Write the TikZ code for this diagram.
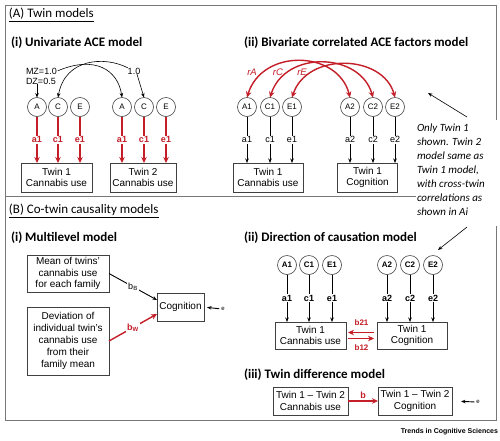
\documentclass[tikz,border=0pt]{standalone}
\usepackage{fontspec}
\setmainfont{Liberation Sans}
\newfontfamily\calib{Carlito}
\usetikzlibrary{arrows.meta}
\definecolor{mred}{RGB}{196,30,40}
\definecolor{frm}{RGB}{120,120,120}
\begin{document}
\begin{tikzpicture}[x=1pt,y=-1pt,
  every node/.style={inner sep=0pt, outer sep=0pt},
  circ/.style={circle, draw=black!75, line width=0.6pt, minimum size=19pt, font=\fontsize{8}{9}\selectfont},
  bcirc/.style={circ, font=\bfseries\fontsize{8}{9}\selectfont},
  tbox/.style={rectangle, draw=black!75, line width=0.6pt, align=center, font=\fontsize{10}{11.5}\selectfont, minimum height=29pt},
  ttl/.style={anchor=west, font=\calib\bfseries\fontsize{13}{15}\selectfont},
  sec/.style={anchor=west, font=\calib\fontsize{13}{15}\selectfont},
  rarr/.style={draw=mred, line width=1.4pt, -{Stealth[length=6pt,width=5.5pt]}},
  rdbl/.style={draw=mred, line width=1.4pt, {Stealth[length=6pt,width=5.5pt]}-{Stealth[length=6pt,width=5.5pt]}},
  barr/.style={draw=black, line width=0.6pt, -{Stealth[length=4.5pt,width=3.5pt]}},
  rlab/.style={fill=white, text=mred, font=\bfseries\fontsize{9}{10}\selectfont, inner sep=1pt},
  blab/.style={fill=white, font=\fontsize{9}{10}\selectfont, inner sep=1pt},
  bblab/.style={fill=white, font=\bfseries\fontsize{9}{10}\selectfont, inner sep=1pt},
]
\useasboundingbox (0,0) rectangle (500,440);
\fill[white] (0,0) rectangle (500,440);
% frame
\draw[frm, line width=0.8pt] (496,120) -- (496,5) -- (5,5) -- (5,420) -- (496,420) -- (496,226);
\draw[frm, line width=0.8pt] (5,196) -- (416,196);

% titles
\node[sec] (tA) at (9,15) {\underline{(A) Twin models}};
\node[ttl] (t1) at (11,43) {(i) Univariate ACE model};
\node[ttl] (t2) at (244,43) {(ii) Bivariate correlated ACE factors model};
\node[sec] (tB) at (9,211) {\underline{(B) Co-twin causality models}};
\node[ttl] (t3) at (11,238) {(i) Multilevel model};
\node[ttl] (t4) at (244,238) {(ii) Direction of causation model};
\node[ttl] (t5) at (244,375) {(iii) Twin difference model};

% A(i)
\node[circ] (uA1) at (37,107) {A};
\node[circ] (uC1) at (58,107) {C};
\node[circ] (uE1) at (80,107) {E};
\node[circ] (uA2) at (122,107) {A};
\node[circ] (uC2) at (144,107) {C};
\node[circ] (uE2) at (166,107) {E};
\node[tbox, minimum width=71pt] (ub1) at (56.5,177.5) {Twin 1\\Cannabis use};
\node[tbox, minimum width=66pt] (ub2) at (143,177.5) {Twin 2\\Cannabis use};
\draw[rarr] (uA1) -- node[rlab]{a1} (uA1 |- ub1.north);
\draw[rarr] (uC1) -- node[rlab]{c1} (uC1 |- ub1.north);
\draw[rarr] (uE1) -- node[rlab]{e1} (uE1 |- ub1.north);
\draw[rarr] (uA2) -- node[rlab]{a1} (uA2 |- ub2.north);
\draw[rarr] (uC2) -- node[rlab]{c1} (uC2 |- ub2.north);
\draw[rarr] (uE2) -- node[rlab]{e1} (uE2 |- ub2.north);
\node[anchor=west, align=left, font=\fontsize{9}{10}\selectfont] (mz) at (26,76) {MZ=1.0\\DZ=0.5};
\node[font=\fontsize{9}{10}\selectfont] (one) at (134,71) {1.0};
\draw[barr] (mz.south -| uA1) -- (uA1.north);
\draw[barr] ([xshift=1pt,yshift=-3pt]mz.north east) .. controls (95,55) and (118,70) .. (uA2.north);
\draw[barr] (one.north west) .. controls (105,56) and (65,58) .. (uC1.north);
\draw[barr] ([xshift=3pt]one.south) -- (uC2.north);

% A(ii)
\node[circ] (bA1) at (247,107) {A1};
\node[circ] (bC1) at (270,107) {C1};
\node[circ] (bE1) at (292,107) {E1};
\node[circ] (bA2) at (350,107) {A2};
\node[circ] (bC2) at (373,107) {C2};
\node[circ] (bE2) at (395,107) {E2};
\node[tbox, minimum width=70pt] (bb1) at (268,177.5) {Twin 1\\Cannabis use};
\node[tbox, minimum width=60pt] (bb2) at (367.5,177.5) {Twin 1\\Cognition};
\draw[barr] (bA1) -- node[blab]{a1} (bA1 |- bb1.north);
\draw[barr] (bC1) -- node[blab]{c1} (bC1 |- bb1.north);
\draw[barr] (bE1) -- node[blab]{e1} (bE1 |- bb1.north);
\draw[barr, line width=1pt] (bA2) -- node[blab]{a2} (bA2 |- bb2.north);
\draw[barr] (bC2) -- node[blab]{c2} (bC2 |- bb2.north);
\draw[barr] (bE2) -- node[blab]{e2} (bE2 |- bb2.north);
\draw[rdbl] (bA1.north) .. controls (262,48) and (338,50) .. (bA2.north);
\draw[rdbl] (bC1.north) .. controls (285,50) and (360,52) .. (bC2.north);
\draw[rdbl] (bE1.north) .. controls (307,52) and (383,54) .. (bE2.north);
\node[text=mred, font=\itshape\fontsize{9.5}{10}\selectfont] (rA) at (252,72) {rA};
\node[text=mred, font=\itshape\fontsize{9.5}{10}\selectfont] (rC) at (278,72) {rC};
\node[text=mred, font=\itshape\fontsize{9.5}{10}\selectfont] (rE) at (302,72) {rE};

% note
\node[anchor=north west, align=left, font=\calib\itshape\fontsize{11}{13.9}\selectfont] (note) at (417,124)
  {Only Twin 1\\shown. Twin 2\\model same as\\Twin 1 model,\\with cross-twin\\correlations as\\shown in Ai};
\coordinate (n1s) at (467,117);
\coordinate (n1e) at (428,93);
\coordinate (n2s) at (467,227);
\coordinate (n2e) at (438,250);
\draw[barr] (n1s) -- (n1e);
\draw[barr] (n2s) -- (n2e);

% B(i)
\node[tbox, minimum width=82pt, minimum height=37pt] (m1) at (68,273.5) {Mean of twins'\\cannabis use\\for each family};
\node[tbox, minimum width=82pt, minimum height=68pt, font=\fontsize{10}{12.2}\selectfont] (m2) at (68,341) {Deviation of\\individual twin's\\cannabis use\\from their\\family mean};
\node[tbox, minimum width=47pt, minimum height=28pt] (cog) at (180.5,307) {Cognition};
\draw[barr, line width=0.9pt] (m1.east) -- node[blab, font=\fontsize{9}{10}\selectfont]{b\textsubscript{B}} ([yshift=7pt]cog.west);
\draw[rarr] (m2.east) -- node[rlab]{b\textsubscript{W}} ([yshift=-7pt]cog.west);
\node[font=\fontsize{6}{7}\selectfont] (ce) at (223,309) {e};
\draw[barr, line width=0.9pt, shorten <=2pt, shorten >=3pt] (ce.west) -- (cog.east);

% B(ii)
\node[bcirc] (dA1) at (287,265) {A1};
\node[bcirc] (dC1) at (309,265) {C1};
\node[bcirc] (dE1) at (332,265) {E1};
\node[bcirc] (dA2) at (387,265) {A2};
\node[bcirc] (dC2) at (410,265) {C2};
\node[bcirc] (dE2) at (433,265) {E2};
\node[tbox, minimum width=71pt, minimum height=27pt] (db1) at (310.5,335.5) {Twin 1\\Cannabis use};
\node[tbox, minimum width=70pt, minimum height=27pt] (db2) at (412,335.5) {Twin 1\\Cognition};
\draw[barr] (dA1) -- node[bblab]{a1} (dA1 |- db1.north);
\draw[barr] (dC1) -- node[bblab]{c1} (dC1 |- db1.north);
\draw[barr] (dE1) -- node[bblab]{e1} (dE1 |- db1.north);
\draw[barr] (dA2) -- node[bblab]{a2} (dA2 |- db2.north);
\draw[barr] (dC2) -- node[bblab]{c2} (dC2 |- db2.north);
\draw[barr] (dE2) -- node[bblab]{e2} (dE2 |- db2.north);
\draw[rarr, shorten <=3pt, shorten >=2pt] ([yshift=3pt]db2.west) -- ([yshift=3pt]db1.east);
\draw[rarr, shorten <=2pt, shorten >=3pt] ([yshift=-3pt]db1.east) -- ([yshift=-3pt]db2.west);
\node[text=mred, font=\bfseries\fontsize{8}{9}\selectfont] (b21) at (361.5,323) {b21};
\node[text=mred, font=\bfseries\fontsize{8}{9}\selectfont] (b12) at (361.5,348) {b12};

% B(iii)
\node[tbox, minimum width=75pt, minimum height=28pt] (tb1) at (310.5,401) {Twin 1 -- Twin 2\\Cannabis use};
\node[tbox, minimum width=74pt, minimum height=28pt] (tb2) at (415,401) {Twin 1 -- Twin 2\\Cognition};
\draw[rarr] (tb1.east) -- node[above=2pt, text=mred, font=\bfseries\fontsize{9}{10}\selectfont]{b} (tb2.west);
\node[font=\fontsize{6}{7}\selectfont] (te) at (478,402) {e};
\draw[barr, line width=0.9pt, shorten <=2pt, shorten >=9pt] (te.west) -- (tb2.east);

\node[anchor=east, font=\bfseries\fontsize{7}{8}\selectfont] (tr) at (498,432) {Trends in Cognitive Sciences};
\end{tikzpicture}
\end{document}
